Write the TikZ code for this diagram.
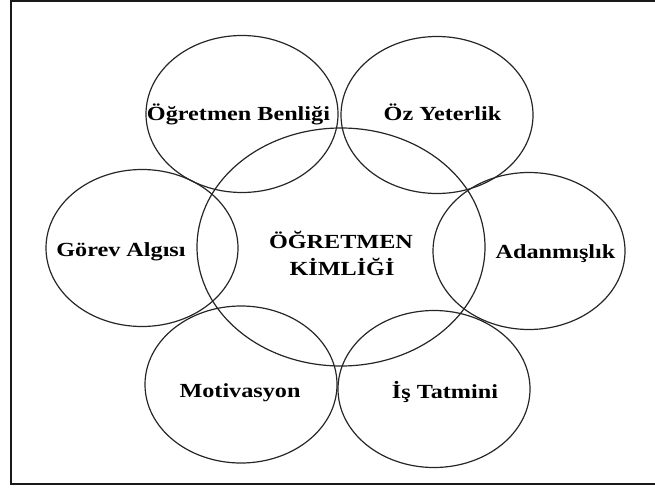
\documentclass[tikz,border=0pt]{standalone}
\usepackage{fontspec}
\setmainfont{Liberation Serif}[FakeStretch=1.21]
\usetikzlibrary{shapes.geometric}
\begin{document}
\begin{tikzpicture}[x=1pt,y=-1pt,
  ring/.style={draw=black!85, line width=1.2pt, ellipse, inner sep=0pt, outer sep=0pt},
  small/.style={ring, minimum width=192pt, minimum height=157pt},
  lbl/.style={anchor=base, inner sep=0pt, font=\fontsize{20}{27}\selectfont\bfseries, text=black},
  frame/.style={draw=black!90, line width=2.2pt}
]
\useasboundingbox (0,0) rectangle (655,489);
% frame
\coordinate (f1) at (660,1);
\coordinate (f2) at (11,1);
\coordinate (f3) at (11,484);
\coordinate (f4) at (660,484);
\draw[frame] (f1) -- (f2) -- (f3) -- (f4);
% ellipses
\node[ring, minimum width=288pt, minimum height=238pt] (center) at (341,247) {};
\node[small] (ob) at (242,114) {};
\node[small] (oy) at (437,115) {};
\node[small] (ga) at (142,248) {};
\node[small] (ad) at (529,251) {};
\node[small] (mo) at (241,384.5) {};
\node[small] (it) at (434,389) {};
% labels
\node[lbl] (tob) at (238.5,121) {Öğretmen Benliği};
\node[lbl] (toy) at (442.5,121) {Öz Yeterlik};
\node[lbl] (tga) at (121,256) {Görev Algısı};
\node[lbl] (tad) at (555.5,258) {Adanmışlık};
\node[lbl] (tmo) at (240,397) {Motivasyon};
\node[lbl] (tit) at (445,398) {İş Tatmini};
\node[lbl] (tc1) at (341,248) {ÖĞRETMEN};
\node[lbl] (tc2) at (342,275) {KİMLİĞİ};
\end{tikzpicture}
\end{document}
